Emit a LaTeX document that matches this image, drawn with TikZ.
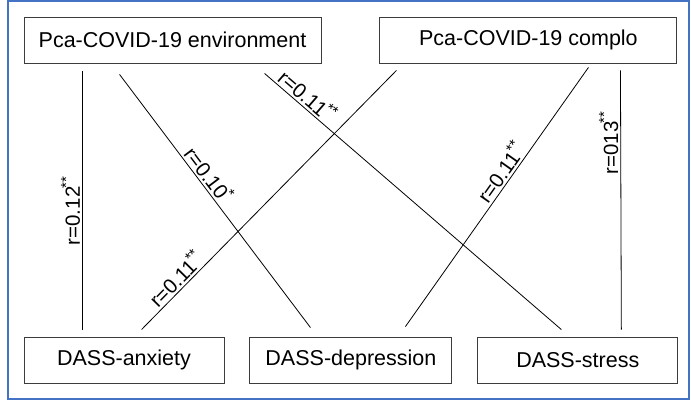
\documentclass[tikz,border=0pt]{standalone}
\usepackage{fontspec}
\setmainfont{Liberation Sans}
\usepackage{tikz}
\usetikzlibrary{positioning}
\definecolor{framebl}{RGB}{68,114,196}
\definecolor{boxgray}{RGB}{60,60,60}
\newcommand{\sig}[1]{\kern-1.5pt\raisebox{0.42em}{\fontsize{15}{15}\selectfont #1}}

\begin{document}
\begin{tikzpicture}[x=1pt, y=-1pt,
    box/.style={draw=boxgray, line width=0.9pt, rectangle, minimum height=46pt,
                inner sep=0pt, font=\fontsize{21.5}{25}\selectfont},
    link/.style={line width=0.8pt, black},
    corr/.style={sloped, above, inner sep=2pt, font=\fontsize{20.5}{24}\selectfont},
]
\useasboundingbox (0,0) rectangle (691,403);
\draw[framebl, line width=1.3pt] (8,1) rectangle (689,399);

% top row
\node[box, minimum width=297pt] (env) at (172.5,40) {Pca-COVID-19 environment};
\node[box, minimum width=297pt, right=58pt of env] (comp) {Pca-COVID-19 complo};

% bottom row
\node[box, minimum width=200pt] (anx) at (124,360) {DASS-anxiety};
\node[box, minimum width=202pt, right=25pt of anx] (dep) {DASS-depression};
\node[box, minimum width=200pt, right=25pt of dep] (str) {DASS-stress};

\draw[link] ([xshift=59pt,yshift=7pt]anx.north west) -- node[corr, allow upside down, pos=0.46] {r=0.12\sig{**}} ([xshift=59pt,yshift=-8pt]env.south west);
\draw[link] ([xshift=96pt,yshift=-11pt]env.south west) -- node[corr, pos=0.42] {r=0.10\sig{*}} ([xshift=61pt,yshift=9pt]dep.north west);
\draw[link] ([xshift=241pt,yshift=-10pt]env.south west) -- node[corr, pos=0.12] {r=0.11\sig{**}} ([xshift=84pt,yshift=7pt]str.north west);
\draw[link] ([xshift=118pt,yshift=7pt]anx.north west) -- node[corr, pos=0.165] {r=0.11\sig{**}} ([xshift=17pt,yshift=-7pt]comp.south west);
\draw[link] ([xshift=156pt,yshift=10pt]dep.north west) -- node[corr, pos=0.57] {r=0.11\sig{**}} ([xshift=209pt,yshift=-4pt]comp.south west);
\draw[link] ([xshift=144pt,yshift=7pt]str.north west) -- node[corr, allow upside down, pos=0.72] {r=013\sig{**}} ([xshift=241pt,yshift=-7pt]comp.south west);
\end{tikzpicture}
\end{document}
